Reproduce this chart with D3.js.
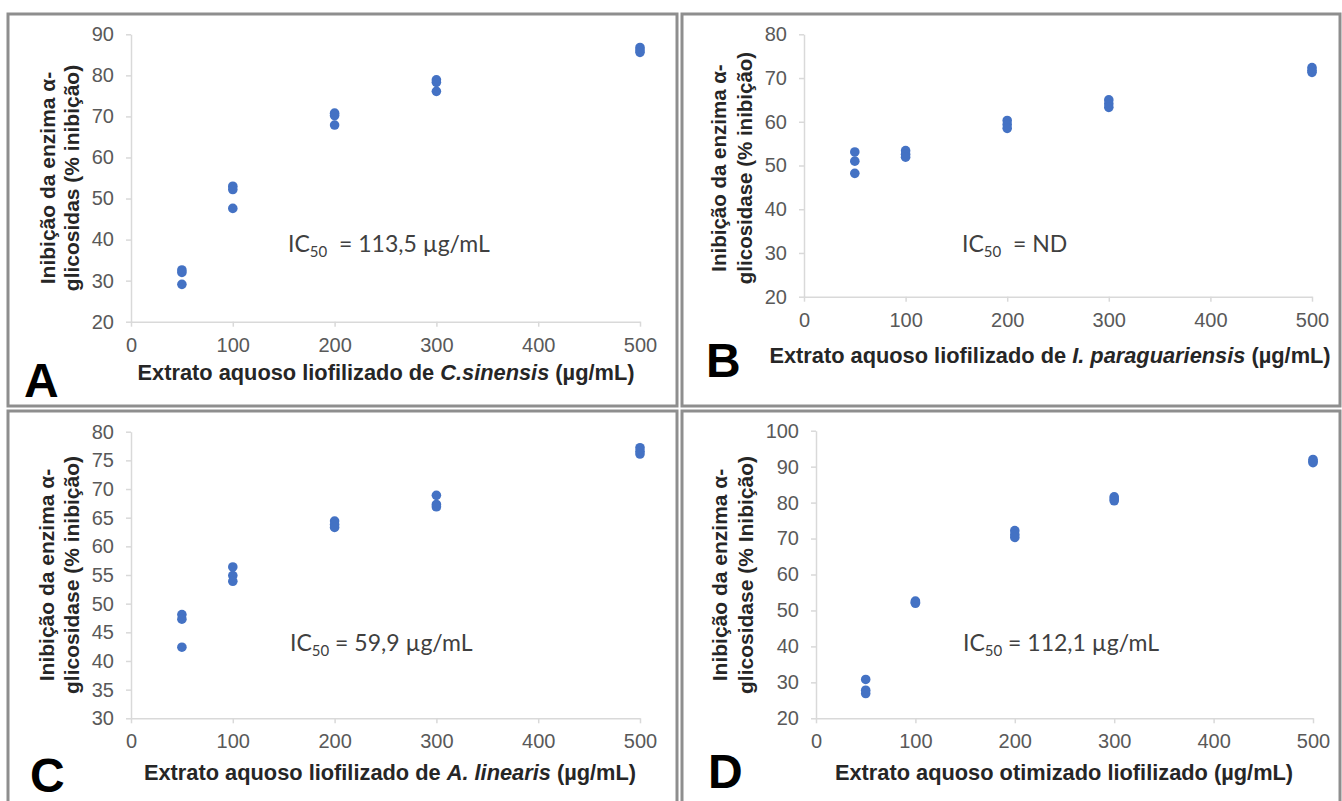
<!DOCTYPE html>
<html>
<head>
<meta charset="utf-8">
<script src="https://cdn.jsdelivr.net/npm/d3@7"></script>
<style>
  html, body { margin: 0; padding: 0; background: #ffffff; }
  svg { display: block; }
</style>
</head>
<body>
<script>
// Concentrations tested (µg/mL) and triplicate inhibition values (%) for each extract
const concentrations = [50, 100, 200, 300, 500];
const inhibitionA = [[32.6, 32.0, 29.1], [53.0, 52.2, 47.6], [70.8, 70.2, 67.9], [78.9, 78.3, 76.1], [86.8, 86.2, 85.6]];
const inhibitionB = [[53.1, 51.0, 48.2], [53.4, 52.6, 51.9], [60.3, 59.4, 58.5], [65.0, 64.1, 63.3], [72.4, 71.8, 71.3]];
const inhibitionC = [[48.1, 47.3, 42.4], [56.4, 54.9, 53.9], [64.4, 63.8, 63.3], [68.9, 67.3, 66.9], [77.2, 76.6, 76.1]];
const inhibitionD = [[30.8, 27.8, 26.9], [52.6, 52.3, 52.0], [72.2, 71.1, 70.3], [81.6, 81.0, 80.5], [92.0, 91.5, 91.1]];

// Axis ticks
const xTickValues = [0, 100, 200, 300, 400, 500];
const yTicksA = [20, 30, 40, 50, 60, 70, 80, 90];
const yTicksB = [20, 30, 40, 50, 60, 70, 80];
const yTicksC = [30, 35, 40, 45, 50, 55, 60, 65, 70, 75, 80];
const yTicksD = [20, 30, 40, 50, 60, 70, 80, 90, 100];

// Texts
const panelLetters = ["A", "B", "C", "D"];
const ic50Labels = ["  = 113,5 µg/mL", "  = ND", " = 59,9 µg/mL", " = 112,1 µg/mL"];
const yTitleLine1 = ["Inibição da enzima α-", "Inibição da enzima α-", "Inibição da enzima α-", "Inibição da enzima α-"];
const yTitleLine2 = ["glicosidas (% inibição)", "glicosidase (% inibição)", "glicosidase (% inibição)", "glicosidase (% Inibição)"];
const xTitleA = [["Extrato aquoso liofilizado de ", false], ["C.sinensis", true], [" (µg/mL)", false]];
const xTitleB = [["Extrato aquoso liofilizado de ", false], ["I. paraguariensis", true], [" (µg/mL)", false]];
const xTitleC = [["Extrato aquoso liofilizado de ", false], ["A. linearis", true], [" (µg/mL)", false]];
const xTitleD = [["Extrato aquoso otimizado liofilizado (µg/mL)", false]];

const W = 1342, H = 801;
const svg = d3.select("body").append("svg").attr("width", W).attr("height", H);

const panels = [
  { box: [8, 14, 669, 392], x0: 131, x1: 640, yTop: 34.3, yBottom: 321.7, yDomain: [20, 90], yTicks: yTicksA,
    data: inhibitionA, letter: panelLetters[0], letterPos: [24, 397],
    xTitle: xTitleA, xTitlePos: [386, 380], yTitle: [yTitleLine1[0], yTitleLine2[0]], yTitleX: [48, 72], yTitleY: 178, yTitleSize: 21,
    ic50: ic50Labels[0], ic50Pos: [288, 252] },
  { box: [682, 14, 658, 392], x0: 804, x1: 1312, yTop: 34.3, yBottom: 296.7, yDomain: [20, 80], yTicks: yTicksB,
    data: inhibitionB, letter: panelLetters[1], letterPos: [706, 377],
    xTitle: xTitleB, xTitlePos: [1050, 363], yTitle: [yTitleLine1[1], yTitleLine2[1]], yTitleX: [719, 745], yTitleY: 168, yTitleSize: 20.5,
    ic50: ic50Labels[1], ic50Pos: [962, 252] },
  { box: [8, 411, 669, 400], x0: 131, x1: 640, yTop: 431.7, yBottom: 718.3, yDomain: [30, 80], yTicks: yTicksC,
    data: inhibitionC, letter: panelLetters[2], letterPos: [30, 792],
    xTitle: xTitleC, xTitlePos: [390, 780], yTitle: [yTitleLine1[2], yTitleLine2[2]], yTitleX: [47, 72], yTitleY: 575, yTitleSize: 21,
    ic50: ic50Labels[2], ic50Pos: [290, 651] },
  { box: [682, 411, 658, 400], x0: 816, x1: 1313, yTop: 430.7, yBottom: 718.3, yDomain: [20, 100], yTicks: yTicksD,
    data: inhibitionD, letter: panelLetters[3], letterPos: [708, 788],
    xTitle: xTitleD, xTitlePos: [1064, 780], yTitle: [yTitleLine1[3], yTitleLine2[3]], yTitleX: [720, 746], yTitleY: 575, yTitleSize: 21,
    ic50: ic50Labels[3], ic50Pos: [963, 651] }
];

const AXIS_COLOR = "#d9d9d9";
const TICK_TEXT = "#595959";
const TITLE_TEXT = "#262626";
const POINT_COLOR = "#4472c4";
const ARIAL = "'Liberation Sans', Arial, sans-serif";

panels.forEach(p => {
  const g = svg.append("g");

  // Panel frame
  g.append("rect")
    .attr("x", p.box[0]).attr("y", p.box[1])
    .attr("width", p.box[2]).attr("height", p.box[3])
    .attr("fill", "#ffffff").attr("stroke", "#8e8e8e").attr("stroke-width", 3);

  const x = d3.scaleLinear().domain([0, 500]).range([p.x0, p.x1]);
  const y = d3.scaleLinear().domain(p.yDomain).range([p.yBottom, p.yTop]);

  // X axis
  const gx = g.append("g")
    .attr("transform", `translate(0,${p.yBottom})`)
    .call(d3.axisBottom(x).tickValues(xTickValues).tickSize(5).tickSizeOuter(0).tickPadding(11));
  // Y axis
  const gy = g.append("g")
    .attr("transform", `translate(${p.x0},0)`)
    .call(d3.axisLeft(y).tickValues(p.yTicks).tickSize(5).tickSizeOuter(0).tickPadding(12));

  [gx, gy].forEach(ax => {
    ax.select(".domain").attr("stroke", AXIS_COLOR).attr("stroke-width", 1.5);
    ax.selectAll(".tick line").attr("stroke", AXIS_COLOR).attr("stroke-width", 1.5);
    ax.selectAll(".tick text")
      .attr("fill", TICK_TEXT)
      .style("font-family", ARIAL)
      .style("font-size", "20px");
  });

  // Data points
  const pts = [];
  concentrations.forEach((c, i) => p.data[i].forEach(v => pts.push({ c, v })));
  g.selectAll("circle.pt").data(pts).enter().append("circle")
    .attr("class", "pt")
    .attr("cx", d => x(d.c))
    .attr("cy", d => y(d.v))
    .attr("r", 4.8)
    .attr("fill", POINT_COLOR);

  // Y title (two lines, rotated)
  p.yTitle.forEach((line, i) => {
    g.append("text")
      .attr("transform", `translate(${p.yTitleX[i]},${p.yTitleY}) rotate(-90)`)
      .attr("text-anchor", "middle")
      .attr("dy", "0.35em")
      .attr("fill", TITLE_TEXT)
      .style("font-family", ARIAL)
      .style("font-weight", "bold")
      .style("font-size", p.yTitleSize + "px")
      .text(line);
  });

  // X title with italic species name
  const xt = g.append("text")
    .attr("x", p.xTitlePos[0]).attr("y", p.xTitlePos[1])
    .attr("text-anchor", "middle")
    .attr("fill", TITLE_TEXT)
    .style("font-family", ARIAL)
    .style("font-weight", "bold")
    .style("font-size", "21.8px")
    .style("white-space", "pre");
  p.xTitle.forEach(part => {
    xt.append("tspan").style("font-style", part[1] ? "italic" : "normal").text(part[0]);
  });

  // IC50 annotation
  const ic = g.append("text")
    .attr("x", p.ic50Pos[0]).attr("y", p.ic50Pos[1])
    .attr("fill", "#404040")
    .style("font-family", "Lato, 'Open Sans', sans-serif")
    .style("font-size", "23px")
    .style("white-space", "pre");
  ic.append("tspan").text("IC");
  ic.append("tspan").attr("dy", 5).style("font-size", "15px").text("50");
  ic.append("tspan").attr("dy", -5).text(p.ic50);

  // Panel letter
  g.append("text")
    .attr("x", p.letterPos[0]).attr("y", p.letterPos[1])
    .attr("fill", "#000000")
    .style("font-family", ARIAL)
    .style("font-weight", "bold")
    .style("font-size", "48px")
    .text(p.letter);
});
</script>
</body>
</html>
